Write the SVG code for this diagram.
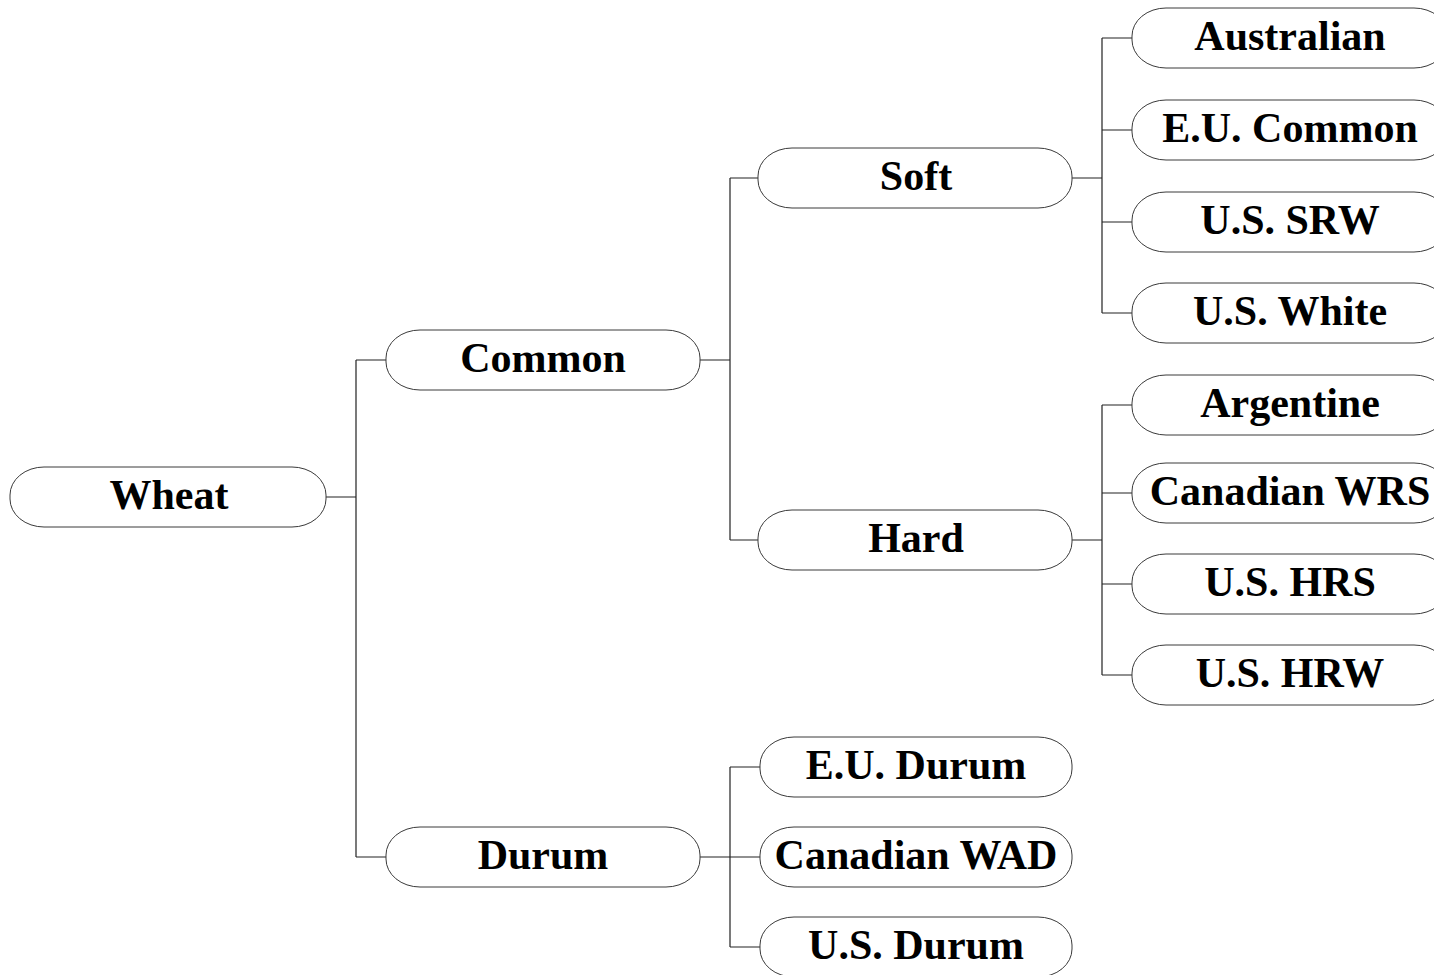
<svg xmlns="http://www.w3.org/2000/svg" width="1434" height="975" viewBox="0 0 1434 975">
  <style>
    .box { fill: #ffffff; stroke: #3a3a3a; stroke-width: 1; }
    .lbl { font-family: "Liberation Serif", "Times New Roman", serif; font-weight: bold; font-size: 42px; fill: #000; text-anchor: middle; }
    .wire { fill: none; stroke: #222222; stroke-width: 1.2; }
  </style>
  <rect width="1434" height="975" fill="#ffffff"/>

  <g id="connectors">
    <!-- Wheat to Common / Durum -->
    <path class="wire" d="M326,497 H356 M356,360 V857 M356,360 H386 M356,857 H386"/>
    <!-- Common to Soft / Hard -->
    <path class="wire" d="M700,360 H730 M730,178 V540 M730,178 H758 M730,540 H758"/>
    <!-- Durum to its three classes -->
    <path class="wire" d="M700,857 H760 M730,767 V947 M730,767 H760 M730,947 H760"/>
    <!-- Soft to soft classes -->
    <path class="wire" d="M1072,178 H1102 M1102,38 V313 M1102,38 H1132 M1102,130 H1132 M1102,222 H1132 M1102,313 H1132"/>
    <!-- Hard to hard classes -->
    <path class="wire" d="M1072,540 H1102 M1102,405 V675 M1102,405 H1132 M1102,493 H1132 M1102,584 H1132 M1102,675 H1132"/>
  </g>

  <g id="wheat"><rect class="box" x="10" y="467" width="316" height="60" rx="34" ry="28"/><text class="lbl" x="169" y="509">Wheat</text></g>

  <g id="common"><rect class="box" x="386" y="330" width="314" height="60" rx="34" ry="28"/><text class="lbl" x="543" y="372">Common</text></g>
  <g id="durum"><rect class="box" x="386" y="827" width="314" height="60" rx="34" ry="28"/><text class="lbl" x="543" y="869">Durum</text></g>

  <g id="soft"><rect class="box" x="758" y="148" width="314" height="60" rx="34" ry="28"/><text class="lbl" x="916" y="190">Soft</text></g>
  <g id="hard"><rect class="box" x="758" y="510" width="314" height="60" rx="34" ry="28"/><text class="lbl" x="916" y="552">Hard</text></g>

  <g id="eu-durum"><rect class="box" x="760" y="737" width="312" height="60" rx="34" ry="28"/><text class="lbl" x="916" y="779">E.U. Durum</text></g>
  <g id="canadian-wad"><rect class="box" x="760" y="827" width="312" height="60" rx="34" ry="28"/><text class="lbl" x="916" y="869">Canadian WAD</text></g>
  <g id="us-durum"><rect class="box" x="760" y="917" width="312" height="60" rx="34" ry="28"/><text class="lbl" x="916" y="959">U.S. Durum</text></g>

  <g id="australian"><rect class="box" x="1132" y="8" width="316" height="60" rx="34" ry="28"/><text class="lbl" x="1290" y="50">Australian</text></g>
  <g id="eu-common"><rect class="box" x="1132" y="100" width="316" height="60" rx="34" ry="28"/><text class="lbl" x="1290" y="142">E.U. Common</text></g>
  <g id="us-srw"><rect class="box" x="1132" y="192" width="316" height="60" rx="34" ry="28"/><text class="lbl" x="1290" y="234">U.S. SRW</text></g>
  <g id="us-white"><rect class="box" x="1132" y="283" width="316" height="60" rx="34" ry="28"/><text class="lbl" x="1290" y="325">U.S. White</text></g>

  <g id="argentine"><rect class="box" x="1132" y="375" width="316" height="60" rx="34" ry="28"/><text class="lbl" x="1290" y="417">Argentine</text></g>
  <g id="canadian-wrs"><rect class="box" x="1132" y="463" width="316" height="60" rx="34" ry="28"/><text class="lbl" x="1290" y="505">Canadian WRS</text></g>
  <g id="us-hrs"><rect class="box" x="1132" y="554" width="316" height="60" rx="34" ry="28"/><text class="lbl" x="1290" y="596">U.S. HRS</text></g>
  <g id="us-hrw"><rect class="box" x="1132" y="645" width="316" height="60" rx="34" ry="28"/><text class="lbl" x="1290" y="687">U.S. HRW</text></g>
</svg>
